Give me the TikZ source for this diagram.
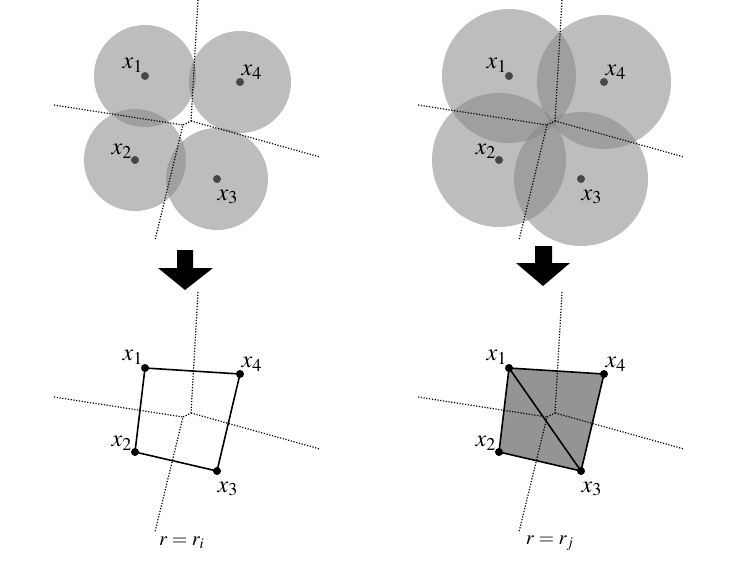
\documentclass[tikz,border=0pt]{standalone}
\usepackage{amsmath}
\usepackage{mathptmx}
\usepackage{tikz}

\begin{document}
\begin{tikzpicture}[x=0.5pt, y=-0.5pt,
    disk/.style={fill=black!48, fill opacity=0.54},
    sitedot/.style={fill=black!72},
    vertexdot/.style={fill=black},
    lbl/.style={inner sep=0pt, font=\large},
    bisector/.style={line width=0.6pt, dash pattern=on 0.6pt off 0.8pt},
    hulledge/.style={line width=0.8pt, line join=round},
    hullfill/.style={fill=black!42}]
  \useasboundingbox (0,0) rectangle (747,561);

  % sites of the four panels
  \foreach \p/\dx/\dy in {a/0/0, b/364/0, c/0/292, d/364/292} {
    \coordinate (\p1) at (145+\dx,76+\dy);
    \coordinate (\p2) at (135+\dx,160+\dy);
    \coordinate (\p3) at (217+\dx,179+\dy);
    \coordinate (\p4) at (240+\dx,82+\dy);
    % voronoi vertices and ends
    \coordinate (\p T) at (198+\dx,0+\dy);
    \coordinate (\p A) at (191+\dx,121+\dy);
    \coordinate (\p B) at (183+\dx,125+\dy);
    \coordinate (\p L) at (54+\dx,105+\dy);
    \coordinate (\p R) at (320+\dx,157+\dy);
    \coordinate (\p D) at (155+\dx,240+\dy);
  }

  % balls
  \foreach \s in {1,...,4} \fill[disk] (a\s) circle (51);
  \foreach \s in {1,...,4} \fill[disk] (b\s) circle (67);

  % filled complex
  \fill[hullfill] (d1) -- (d4) -- (d3) -- (d2) -- cycle;

  % voronoi diagrams
  \foreach \p in {a,b,c,d} {
    \draw[bisector] (\p T) -- (\p A) -- (\p B) -- (\p D);
    \draw[bisector] (\p L) -- (\p B);
    \draw[bisector] (\p A) -- (\p R);
  }

  % edges
  \draw[hulledge] (c1) -- (c4) -- (c3) -- (c2) -- cycle;
  \draw[hulledge] (d1) -- (d4) -- (d3) -- (d2) -- cycle;
  \draw[hulledge] (d1) -- (d3);

  % dots and labels
  \foreach \p/\kind/\rad in {a/sitedot/4, b/sitedot/4, c/vertexdot/4, d/vertexdot/4} {
    \foreach \s in {1,...,4} \fill[\kind] (\p\s) circle (\rad);
    \node[lbl] (\p1l) at ([shift={(-12,-11)}]\p1) {$x_1$};
    \node[lbl] (\p2l) at ([shift={(-13,-9)}]\p2) {$x_2$};
    \node[lbl] (\p3l) at ([shift={(11,18)}]\p3) {$x_3$};
    \node[lbl] (\p4l) at ([shift={(12,-10)}]\p4) {$x_4$};
  }

  % arrows
  \fill (177,250) -- (193,250) -- (193,268) -- (213,268) -- (185,290)
    -- (158,268) -- (177,268) -- cycle;
  \fill (535,246) -- (552,246) -- (552,263) -- (570,263) -- (543,286)
    -- (516,263) -- (535,263) -- cycle;

  % captions
  \node (capi) at (182,543) {$r = r_i$};
  \node (capj) at (550,543) {$r = r_j$};
\end{tikzpicture}
\end{document}
